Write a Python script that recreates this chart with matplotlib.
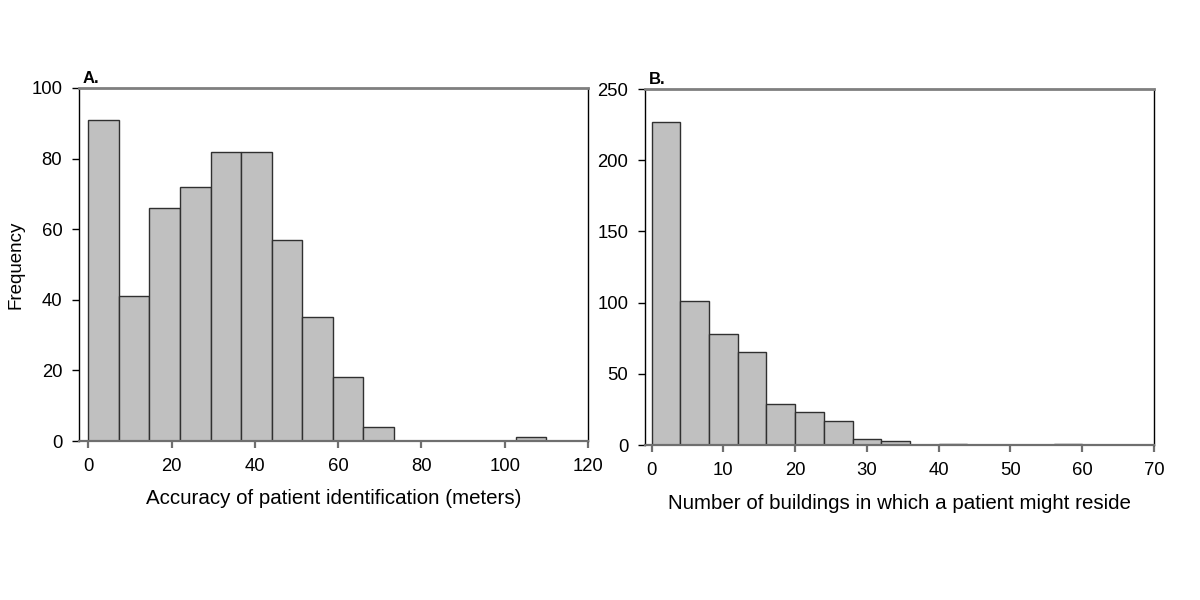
import numpy as np
import matplotlib
matplotlib.use("Agg")
import matplotlib.pyplot as plt

plt.rcParams['font.family'] = ['Liberation Sans', 'DejaVu Sans']

# Panel A: accuracy of patient identification (meters), 15 bins from 0 to 110
a_edges_start = 0.0
a_edges_stop = 110.0
a_counts = [91, 41, 66, 72, 82, 82, 57, 35, 18, 4, 0, 0, 0, 0, 1]
a_xticks = [0, 20, 40, 60, 80, 100, 120]
a_yticks = [0, 20, 40, 60, 80, 100]

# Panel B: number of buildings, bin width 4
b_edges_start = 0.0
b_bin_width = 4.0
b_counts = [227, 101, 78, 65, 29, 23, 17, 4, 3, 0, 1, 0, 0, 0, 1]
b_xticks = [0, 10, 20, 30, 40, 50, 60, 70]
b_yticks = [0, 50, 100, 150, 200, 250]

fig = plt.figure(figsize=(12, 6), dpi=100)
axA = fig.add_axes([79/1200, 1-441/600, (588-79)/1200, (441-88)/600])
axB = fig.add_axes([645/1200, 1-445/600, (1154-645)/1200, (445-89)/600])

def style(ax):
    ax.spines['top'].set_color('#7f7f7f')
    ax.spines['top'].set_linewidth(2.0)
    ax.spines['bottom'].set_color('#6f6f6f')
    ax.spines['bottom'].set_linewidth(1.6)
    ax.spines['left'].set_color('black')
    ax.spines['left'].set_linewidth(1.0)
    ax.spines['right'].set_color('black')
    ax.spines['right'].set_linewidth(1.0)
    ax.tick_params(axis='both', direction='out', length=5, width=1.0,
                   labelsize=13.3, colors='black')
    ax.tick_params(axis='y', pad=7)
    ax.tick_params(axis='x', color='#6f6f6f', width=1.6, pad=7)

# Panel A
a_edges = np.linspace(a_edges_start, a_edges_stop, len(a_counts) + 1)
a_w = np.diff(a_edges)
axA.bar(a_edges[:-1], a_counts, width=a_w, align='edge', color='#c0c0c0',
        edgecolor='#303030', linewidth=1.0, zorder=2)
axA.set_xlim(-2.25, 120)
axA.set_ylim(0, 100)
axA.set_xticks(a_xticks)
axA.set_yticks(a_yticks)
style(axA)
axA.set_xlabel('Accuracy of patient identification (meters)', fontsize=14.8, labelpad=10)
axA.set_ylabel('Frequency', fontsize=13.5, labelpad=5)
axA.text(0.008, 1.005, 'A.', transform=axA.transAxes, fontsize=12,
         fontweight='bold', ha='left', va='bottom')

# Panel B
b_edges = b_edges_start + b_bin_width * np.arange(len(b_counts) + 1)
axB.bar(b_edges[:-1], b_counts, width=b_bin_width, align='edge', color='#c0c0c0',
        edgecolor='#303030', linewidth=1.0, zorder=2)
axB.set_xlim(-0.93, 70)
axB.set_ylim(0, 250)
axB.set_xticks(b_xticks)
axB.set_yticks(b_yticks)
style(axB)
axB.set_xlabel('Number of buildings in which a patient might reside', fontsize=14.8, labelpad=11)
axB.text(0.008, 1.005, 'B.', transform=axB.transAxes, fontsize=12,
         fontweight='bold', ha='left', va='bottom')

fig.savefig('out.png', dpi=100)
